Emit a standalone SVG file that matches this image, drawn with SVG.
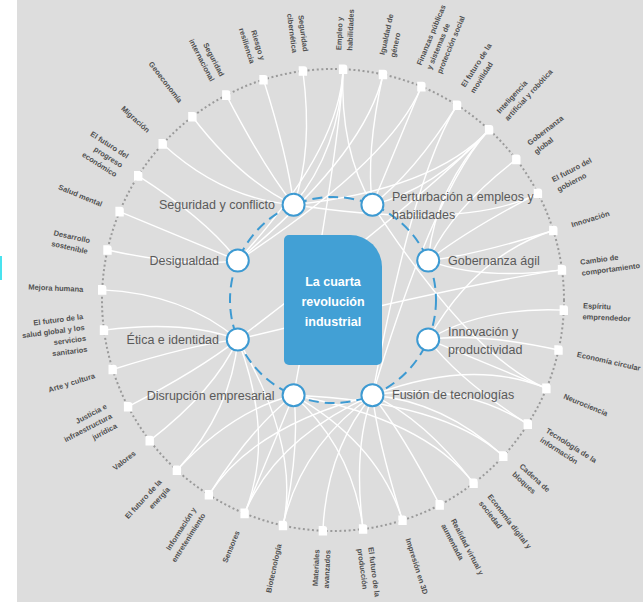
<svg xmlns="http://www.w3.org/2000/svg" xmlns:xlink="http://www.w3.org/1999/xlink" width="643" height="602" viewBox="0 0 643 602">
<style>
.ro{fill:none;stroke:#9a9a9a;stroke-width:2;stroke-dasharray:2 2.6}
.ri{fill:none;stroke:#3d9ad2;stroke-width:2;stroke-dasharray:10 6}
#links path{fill:none;stroke:#fff;stroke-width:1.4}
.node circle{fill:#fff;stroke:#3d9ad2;stroke-width:2}
.nl{font-family:"Liberation Sans",Arial,sans-serif;font-size:12.5px;fill:#5a5a5a}
.tl{font-family:"Liberation Sans",Arial,sans-serif;font-size:7.5px;font-weight:bold;fill:#505050}
.s{text-anchor:start}
.e{text-anchor:end}
.ct{font-family:"Liberation Sans",Arial,sans-serif;font-size:12.5px;font-weight:bold;fill:#fff;text-anchor:middle}
</style>
<defs>
<path id="sq" d="M-4.2,-4.8 H1.2 Q4.2,-4.8 4.2,-1.8 V4.8 H-4.2 Z" fill="#fff"/>
</defs>
<rect x="0" y="0" width="643" height="602" fill="#fff"/>
<rect x="17" y="0" width="626" height="602" fill="#dddddd"/>
<rect x="0" y="256" width="2" height="24" fill="#49e3ef"/>
<circle class="ro" cx="333" cy="300" r="231"/>
<g id="links">
<path d="M302.9,71 Q313.4,151.3 293.6,204.8"/>
<path d="M263.5,79.7 Q287.9,156.9 293.6,204.8"/>
<path d="M226.3,95.1 Q263.7,166.9 293.6,204.8"/>
<path d="M192.4,116.7 Q241.7,181 293.6,204.8"/>
<path d="M162.7,143.9 Q222.4,198.7 293.6,204.8"/>
<path d="M343.1,69.2 Q339.5,150.2 293.6,204.8"/>
<path d="M489.1,129.7 Q434.3,189.4 293.6,204.8"/>
<path d="M537.9,193.3 Q466.1,230.7 293.6,204.8"/>
<path d="M138.2,175.9 Q206.5,219.4 237.8,260.6"/>
<path d="M119.6,211.6 Q194.4,242.6 237.8,260.6"/>
<path d="M107.5,250 Q186.6,267.5 237.8,260.6"/>
<path d="M343.1,69.2 Q339.5,150.2 237.8,260.6"/>
<path d="M383,74.5 Q365.5,153.6 237.8,260.6"/>
<path d="M421.4,86.6 Q390.4,161.4 237.8,260.6"/>
<path d="M102.2,289.9 Q183.2,293.5 237.8,339.4"/>
<path d="M104,330.1 Q184.3,319.6 237.8,339.4"/>
<path d="M112.7,369.5 Q189.9,345.1 237.8,339.4"/>
<path d="M128.1,406.7 Q199.9,369.3 237.8,339.4"/>
<path d="M149.7,440.6 Q214,391.3 237.8,339.4"/>
<path d="M176.9,470.3 Q231.7,410.6 237.8,339.4"/>
<path d="M244.6,513.4 Q275.6,438.6 237.8,339.4"/>
<path d="M283,525.5 Q300.5,446.4 237.8,339.4"/>
<path d="M562,269.9 Q481.7,280.4 237.8,339.4"/>
<path d="M489.1,129.7 Q434.3,189.4 237.8,339.4"/>
<path d="M208.9,494.8 Q252.4,426.5 293.6,395.2"/>
<path d="M176.9,470.3 Q231.7,410.6 293.6,395.2"/>
<path d="M244.6,513.4 Q275.6,438.6 293.6,395.2"/>
<path d="M283,525.5 Q300.5,446.4 293.6,395.2"/>
<path d="M363.1,529 Q352.6,448.7 293.6,395.2"/>
<path d="M402.5,520.3 Q378.1,443.1 293.6,395.2"/>
<path d="M473.6,483.3 Q424.3,419 293.6,395.2"/>
<path d="M503.3,456.1 Q443.6,401.3 293.6,395.2"/>
<path d="M343.1,69.2 Q339.5,150.2 293.6,395.2"/>
<path d="M208.9,494.8 Q252.4,426.5 372.4,395.2"/>
<path d="M244.6,513.4 Q275.6,438.6 372.4,395.2"/>
<path d="M283,525.5 Q300.5,446.4 372.4,395.2"/>
<path d="M322.9,530.8 Q326.5,449.9 372.4,395.2"/>
<path d="M363.1,529 Q352.6,448.7 372.4,395.2"/>
<path d="M402.5,520.3 Q378.1,443.1 372.4,395.2"/>
<path d="M439.7,504.9 Q402.3,433.1 372.4,395.2"/>
<path d="M473.6,483.3 Q424.3,419 372.4,395.2"/>
<path d="M503.3,456.1 Q443.6,401.3 372.4,395.2"/>
<path d="M527.8,424.1 Q459.5,380.6 372.4,395.2"/>
<path d="M546.4,388.4 Q471.6,357.4 372.4,395.2"/>
<path d="M489.1,129.7 Q434.3,189.4 372.4,395.2"/>
<path d="M457.1,105.2 Q413.6,173.5 372.4,395.2"/>
<path d="M553.3,230.5 Q476.1,254.9 428.2,339.4"/>
<path d="M563.8,310.1 Q482.9,306.5 428.2,339.4"/>
<path d="M558.5,350 Q479.4,332.5 428.2,339.4"/>
<path d="M546.4,388.4 Q471.6,357.4 428.2,339.4"/>
<path d="M527.8,424.1 Q459.5,380.6 428.2,339.4"/>
<path d="M516.3,159.4 Q452,208.7 428.2,260.6"/>
<path d="M537.9,193.3 Q466.1,230.7 428.2,260.6"/>
<path d="M553.3,230.5 Q476.1,254.9 428.2,260.6"/>
<path d="M562,269.9 Q481.7,280.4 428.2,260.6"/>
<path d="M489.1,129.7 Q434.3,189.4 428.2,260.6"/>
<path d="M343.1,69.2 Q339.5,150.2 372.4,204.8"/>
<path d="M383,74.5 Q365.5,153.6 372.4,204.8"/>
<path d="M421.4,86.6 Q390.4,161.4 372.4,204.8"/>
<path d="M457.1,105.2 Q413.6,173.5 372.4,204.8"/>
<path d="M489.1,129.7 Q434.3,189.4 372.4,204.8"/>
<path d="M546.4,388.4 Q471.6,357.4 372.4,204.8"/>
</g>
<circle class="ri" cx="333" cy="300" r="103"/>
<g id="center">
<path d="M289,235 H350 A32,32 0 0 1 382,267 V360 A5,5 0 0 1 377,365 H289 A5,5 0 0 1 284,360 V240 A5,5 0 0 1 289,235 Z" fill="#42a0d5"/>
<text class="ct" x="333" y="286">La cuarta</text>
<text class="ct" x="333" y="306">revolución</text>
<text class="ct" x="333" y="326">industrial</text>
</g>
<g id="n-seguridad" class="node"><circle cx="293.6" cy="204.8" r="11"/><text class="nl e" x="275" y="209">Seguridad y conflicto</text></g>
<g id="n-perturbacion" class="node"><circle cx="372.4" cy="204.8" r="11"/><text class="nl s" x="392" y="201">Perturbación a empleos y</text><text class="nl s" x="392" y="219">habilidades</text></g>
<g id="n-gobernanza" class="node"><circle cx="428.2" cy="260.6" r="11"/><text class="nl s" x="448" y="265">Gobernanza ágil</text></g>
<g id="n-innovacion" class="node"><circle cx="428.2" cy="339.4" r="11"/><text class="nl s" x="448" y="335.5">Innovación y</text><text class="nl s" x="448" y="353.5">productividad</text></g>
<g id="n-fusion" class="node"><circle cx="372.4" cy="395.2" r="11"/><text class="nl s" x="392" y="399">Fusión de tecnologías</text></g>
<g id="n-disrupcion" class="node"><circle cx="293.6" cy="395.2" r="11"/><text class="nl e" x="274.5" y="399.5">Disrupción empresarial</text></g>
<g id="n-etica" class="node"><circle cx="237.8" cy="339.4" r="11"/><text class="nl e" x="219" y="344">Ética e identidad</text></g>
<g id="n-desigualdad" class="node"><circle cx="237.8" cy="260.6" r="11"/><text class="nl e" x="219" y="265">Desigualdad</text></g>
<g id="t00"><use href="#sq" x="343.1" y="69.2"/><text class="tl s" transform="translate(343.9,50.3) rotate(-87.5)"><tspan x="0" y="-2.7">Empleo y</tspan><tspan x="0" y="8.3">habilidades</tspan></text></g>
<g id="t01"><use href="#sq" x="383" y="74.5"/><text class="tl s" transform="translate(387.1,55.9) rotate(-77.5)"><tspan x="0" y="-2.7">Igualdad de</tspan><tspan x="0" y="8.3">género</tspan></text></g>
<g id="t02"><use href="#sq" x="421.4" y="86.6"/><text class="tl s" transform="translate(428.7,69) rotate(-67.5)"><tspan x="0" y="-8.2">Finanzas públicas</tspan><tspan x="0" y="2.8">y sistemas de</tspan><tspan x="0" y="13.8">protección social</tspan></text></g>
<g id="t03"><use href="#sq" x="457.1" y="105.2"/><text class="tl s" transform="translate(467.3,89.2) rotate(-57.5)"><tspan x="0" y="-2.7">El futuro de la</tspan><tspan x="0" y="8.3">movilidad</tspan></text></g>
<g id="t04"><use href="#sq" x="489.1" y="129.7"/><text class="tl s" transform="translate(501.9,115.7) rotate(-47.5)"><tspan x="0" y="-2.7">Inteligencia</tspan><tspan x="0" y="8.3">artificial y robótica</tspan></text></g>
<g id="t05"><use href="#sq" x="516.3" y="159.4"/><text class="tl s" transform="translate(531.4,147.8) rotate(-37.5)"><tspan x="0" y="-2.7">Gobernanza</tspan><tspan x="0" y="8.3">global</tspan></text></g>
<g id="t06"><use href="#sq" x="537.9" y="193.3"/><text class="tl s" transform="translate(554.8,184.6) rotate(-27.5)"><tspan x="0" y="-2.7">El futuro del</tspan><tspan x="0" y="8.3">gobierno</tspan></text></g>
<g id="t07"><use href="#sq" x="553.3" y="230.5"/><text class="tl s" transform="translate(571.4,224.8) rotate(-17.5)"><tspan x="0" y="2.8">Innovación</tspan></text></g>
<g id="t08"><use href="#sq" x="562" y="269.9"/><text class="tl s" transform="translate(580.9,267.4) rotate(-7.5)"><tspan x="0" y="-2.7">Cambio de</tspan><tspan x="0" y="8.3">comportamiento</tspan></text></g>
<g id="t09"><use href="#sq" x="563.8" y="310.1"/><text class="tl s" transform="translate(582.8,310.9) rotate(2.5)"><tspan x="0" y="-2.7">Espíritu</tspan><tspan x="0" y="8.3">emprendedor</tspan></text></g>
<g id="t10"><use href="#sq" x="558.5" y="350"/><text class="tl s" transform="translate(577.1,354.1) rotate(12.5)"><tspan x="0" y="2.8">Economía circular</tspan></text></g>
<g id="t11"><use href="#sq" x="546.4" y="388.4"/><text class="tl s" transform="translate(564,395.7) rotate(22.5)"><tspan x="0" y="2.8">Neurociencia</tspan></text></g>
<g id="t12"><use href="#sq" x="527.8" y="424.1"/><text class="tl s" transform="translate(543.9,434.3) rotate(32.5)"><tspan x="0" y="-2.7">Tecnología de la</tspan><tspan x="0" y="8.3">información</tspan></text></g>
<g id="t13"><use href="#sq" x="503.3" y="456.1"/><text class="tl s" transform="translate(517.3,468.9) rotate(42.5)"><tspan x="0" y="-2.7">Cadena de</tspan><tspan x="0" y="8.3">bloques</tspan></text></g>
<g id="t14"><use href="#sq" x="473.6" y="483.3"/><text class="tl s" transform="translate(485.2,498.4) rotate(52.5)"><tspan x="0" y="-2.7">Economía digital y</tspan><tspan x="0" y="8.3">sociedad</tspan></text></g>
<g id="t15"><use href="#sq" x="439.7" y="504.9"/><text class="tl s" transform="translate(448.4,521.8) rotate(62.5)"><tspan x="0" y="-2.7">Realidad virtual y</tspan><tspan x="0" y="8.3">aumentada</tspan></text></g>
<g id="t16"><use href="#sq" x="402.5" y="520.3"/><text class="tl s" transform="translate(408.2,538.4) rotate(72.5)"><tspan x="0" y="2.8">Impresión en 3D</tspan></text></g>
<g id="t17"><use href="#sq" x="363.1" y="529"/><text class="tl s" transform="translate(365.6,547.9) rotate(82.5)"><tspan x="0" y="-2.7">El futuro de la</tspan><tspan x="0" y="8.3">producción</tspan></text></g>
<g id="t18"><use href="#sq" x="322.9" y="530.8"/><text class="tl e" transform="translate(322.1,549.8) rotate(-87.5)"><tspan x="0" y="-2.7">Materiales</tspan><tspan x="0" y="8.3">avanzados</tspan></text></g>
<g id="t19"><use href="#sq" x="283" y="525.5"/><text class="tl e" transform="translate(278.9,544.1) rotate(-77.5)"><tspan x="0" y="2.8">Biotecnología</tspan></text></g>
<g id="t20"><use href="#sq" x="244.6" y="513.4"/><text class="tl e" transform="translate(237.3,531) rotate(-67.5)"><tspan x="0" y="2.8">Sensores</tspan></text></g>
<g id="t21"><use href="#sq" x="208.9" y="494.8"/><text class="tl e" transform="translate(198.7,510.9) rotate(-57.5)"><tspan x="0" y="-2.7">Información y</tspan><tspan x="0" y="8.3">entretenimiento</tspan></text></g>
<g id="t22"><use href="#sq" x="176.9" y="470.3"/><text class="tl e" transform="translate(164.1,484.3) rotate(-47.5)"><tspan x="0" y="-2.7">El futuro de la</tspan><tspan x="0" y="8.3">energía</tspan></text></g>
<g id="t23"><use href="#sq" x="149.7" y="440.6"/><text class="tl e" transform="translate(134.7,452.2) rotate(-37.5)"><tspan x="0" y="2.8">Valores</tspan></text></g>
<g id="t24"><use href="#sq" x="128.1" y="406.7"/><text class="tl e" transform="translate(111.3,415.4) rotate(-27.5)"><tspan x="0" y="-8.2">Justicia e</tspan><tspan x="0" y="2.8">infraestructura</tspan><tspan x="0" y="13.8">jurídica</tspan></text></g>
<g id="t25"><use href="#sq" x="112.7" y="369.5"/><text class="tl e" transform="translate(94.6,375.2) rotate(-17.5)"><tspan x="0" y="2.8">Arte y cultura</tspan></text></g>
<g id="t26"><use href="#sq" x="104" y="330.1"/><text class="tl e" transform="translate(85.2,332.6) rotate(-7.5)"><tspan x="0" y="-13.7">El futuro de la</tspan><tspan x="0" y="-2.7">salud global y los</tspan><tspan x="0" y="8.3">servicios</tspan><tspan x="0" y="19.3">sanitarios</tspan></text></g>
<g id="t27"><use href="#sq" x="102.2" y="289.9"/><text class="tl e" transform="translate(83.3,289.1) rotate(2.5)"><tspan x="0" y="2.8">Mejora humana</tspan></text></g>
<g id="t28"><use href="#sq" x="107.5" y="250"/><text class="tl e" transform="translate(88.9,245.9) rotate(12.5)"><tspan x="0" y="-2.7">Desarrollo</tspan><tspan x="0" y="8.3">sostenible</tspan></text></g>
<g id="t29"><use href="#sq" x="119.6" y="211.6"/><text class="tl e" transform="translate(102,204.3) rotate(22.5)"><tspan x="0" y="2.8">Salud mental</tspan></text></g>
<g id="t30"><use href="#sq" x="138.2" y="175.9"/><text class="tl e" transform="translate(122.2,165.7) rotate(32.5)"><tspan x="0" y="-8.2">El futuro del</tspan><tspan x="0" y="2.8">progreso</tspan><tspan x="0" y="13.8">económico</tspan></text></g>
<g id="t31"><use href="#sq" x="162.7" y="143.9"/><text class="tl e" transform="translate(148.7,131.1) rotate(42.5)"><tspan x="0" y="2.8">Migración</tspan></text></g>
<g id="t32"><use href="#sq" x="192.4" y="116.7"/><text class="tl e" transform="translate(180.8,101.7) rotate(52.5)"><tspan x="0" y="2.8">Geoeconomía</tspan></text></g>
<g id="t33"><use href="#sq" x="226.3" y="95.1"/><text class="tl e" transform="translate(217.6,78.3) rotate(62.5)"><tspan x="0" y="-2.7">Seguridad</tspan><tspan x="0" y="8.3">internacional</tspan></text></g>
<g id="t34"><use href="#sq" x="263.5" y="79.7"/><text class="tl e" transform="translate(257.8,61.6) rotate(72.5)"><tspan x="0" y="-2.7">Riesgo y</tspan><tspan x="0" y="8.3">resiliencia</tspan></text></g>
<g id="t35"><use href="#sq" x="302.9" y="71"/><text class="tl e" transform="translate(300.4,52.1) rotate(82.5)"><tspan x="0" y="-2.7">Seguridad</tspan><tspan x="0" y="8.3">cibernética</tspan></text></g>
</svg>
